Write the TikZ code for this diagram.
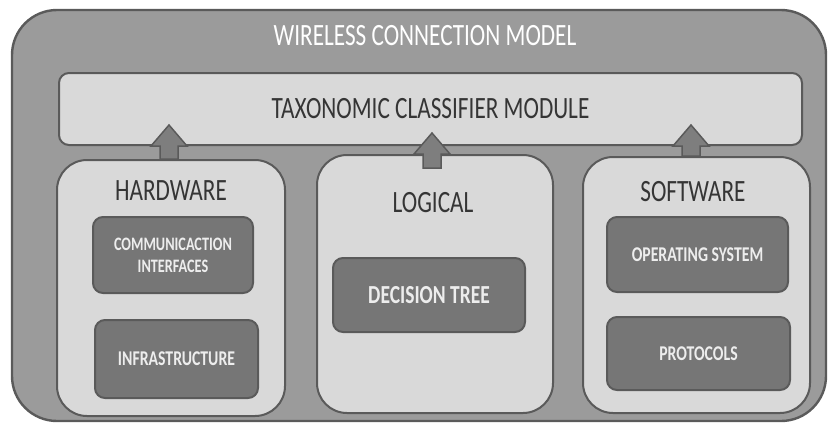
\documentclass[tikz,border=0pt]{standalone}
\usepackage{fontspec}
\setmainfont{Carlito}[FakeStretch=0.75]
\usetikzlibrary{calc}
\definecolor{outerfill}{HTML}{9B9B9B}
\definecolor{edgecol}{HTML}{5A5A5A}
\definecolor{lightfill}{HTML}{D9D9D9}
\definecolor{darkfill}{HTML}{767676}
\definecolor{arrfill}{HTML}{7E7E7E}
\definecolor{darktext}{HTML}{353535}
\definecolor{lighttext}{HTML}{EDEDED}
\tikzset{
  outerbox/.style={draw=edgecol, line width=2.4pt, fill=outerfill, rounded corners=45pt, minimum width=#1, minimum height=411pt, inner sep=0pt},
  taxbox/.style={draw=edgecol, line width=2pt, fill=lightfill, rounded corners=10pt, inner sep=0pt, font=\fontsize{31}{34}\selectfont, text=darktext},
  groupbox/.style={draw=edgecol, line width=2pt, fill=lightfill, rounded corners=30pt, inner sep=0pt},
  itembox/.style={draw=edgecol, line width=2pt, fill=darkfill, rounded corners=10pt, inner sep=0pt, text=lighttext, font=\bfseries\fontsize{21}{22}\selectfont, align=center},
  grouptitle/.style={text=darktext, font=\fontsize{31}{34}\selectfont, inner sep=0pt},
  titletext/.style={text=white, font=\fontsize{31}{34}\selectfont, inner sep=0pt},
  fatarr/.style={draw=edgecol, line width=1.5pt, fill=arrfill, line join=miter}
}
\newcommand\fatarrow[2]{%
  \path[fatarr] let \p1=(#1), \p2=(#2) in
    (\x2-9pt,\y1) -- (\x2-9pt,\y2-21pt) -- (\x2-18pt,\y2-21pt) -- (\x2,\y2)
    -- (\x2+18pt,\y2-21pt) -- (\x2+9pt,\y2-21pt) -- (\x2+9pt,\y1) -- cycle;}
\begin{document}
\begin{tikzpicture}[x=1pt,y=-1pt]
\useasboundingbox (0,0) rectangle (830,424);
\fill[white] (0,0) rectangle (830,424);
\node[outerbox=814pt] (outer) at (419,215.5) {};
\node[titletext] (title) at (425,36) {WIRELESS CONNECTION MODEL};
\node[taxbox, minimum width=743pt, minimum height=72pt] (tax) at (430.5,109) {TAXONOMIC CLASSIFIER MODULE};
% groups
\node[groupbox, minimum width=228pt, minimum height=256pt] (hw) at (171,288) {};
\node[groupbox, minimum width=236pt, minimum height=258pt] (lg) at (435,284) {};
\node[groupbox, minimum width=227pt, minimum height=256pt] (sw) at (696.5,285) {};
\node[grouptitle] (hwt) at (171,191) {HARDWARE};
\node[grouptitle] (lgt) at (433,203) {LOGICAL};
\node[grouptitle] (swt) at (693,192) {SOFTWARE};
% items
\node[itembox, minimum width=160pt, minimum height=76pt, font=\bfseries\fontsize{19}{22}\selectfont] (ci) at (173,255) {COMMUNICACTION\\INTERFACES};
\node[itembox, minimum width=163pt, minimum height=78pt] (inf) at (176.5,359) {INFRASTRUCTURE};
\node[itembox, minimum width=192pt, minimum height=74pt, font=\bfseries\fontsize{26}{28}\selectfont] (dt) at (429,295) {DECISION TREE};
\node[itembox, minimum width=181pt, minimum height=75pt] (os) at (697.5,254.5) {OPERATING SYSTEM};
\node[itembox, minimum width=183pt, minimum height=73pt] (pr) at (698.5,353.5) {PROTOCOLS};
% arrows
\coordinate (t1) at (169,125);
\coordinate (t2) at (432,133);
\coordinate (t3) at (691,125);
\coordinate (s2) at ($(lg.north)+(0,14)$);
\fatarrow{hw.north}{t1}
\fatarrow{s2}{t2}
\fatarrow{sw.north}{t3}
\end{tikzpicture}
\end{document}
